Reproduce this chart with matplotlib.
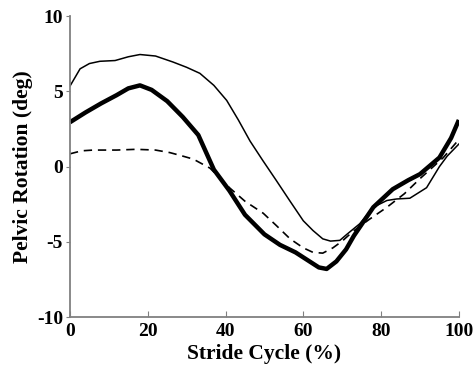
import matplotlib
matplotlib.use("Agg")
import matplotlib.pyplot as plt

# thick solid curve
x_thick = [0, 4, 8, 12, 15, 18, 21, 25, 29, 33, 37, 41, 45, 50, 54, 58, 61, 64, 66,
           68.5, 71, 73, 78, 83, 87, 90, 95, 98, 100]
y_thick = [2.95, 3.6, 4.2, 4.75, 5.2, 5.4, 5.1, 4.35, 3.3, 2.1, -0.2, -1.6, -3.2, -4.5,
           -5.2, -5.7, -6.2, -6.7, -6.8, -6.3, -5.5, -4.6, -2.7, -1.5, -0.9, -0.5, 0.6,
           1.9, 3.1]

# thin solid curve
x_thin = [0, 2.6, 5, 7.7, 11.6, 15, 18, 22, 26.5, 30, 33.4, 37, 40.3, 43.3, 46.3, 49.6,
          53, 56.6, 60, 62.5, 65, 67, 69.4, 71.2, 74.5, 78, 81.5, 84, 87.4, 91.7, 95,
          97, 100]
y_thin = [5.35, 6.5, 6.85, 7.0, 7.05, 7.3, 7.45, 7.35, 6.95, 6.6, 6.2, 5.4, 4.4, 3.1,
          1.7, 0.4, -0.9, -2.3, -3.6, -4.25, -4.8, -4.95, -4.9, -4.5, -3.8, -2.7,
          -2.25, -2.15, -2.1, -1.4, 0.0, 0.7, 1.5]

# dashed curve
x_dash = [0, 3, 6, 12, 17, 22, 25.7, 28.3, 31.7, 36, 41, 45, 49.7, 53, 56.6, 60, 62.5,
          65, 67.6, 70, 72.8, 77, 81.5, 86, 90, 96, 100]
y_dash = [0.85, 1.05, 1.1, 1.1, 1.15, 1.1, 0.93, 0.75, 0.5, -0.1, -1.4, -2.3, -3.1,
          -3.9, -4.8, -5.4, -5.7, -5.75, -5.4, -4.95, -4.3, -3.5, -2.7, -1.8, -0.8,
          0.6, 1.8]

x_ticks = [0, 20, 40, 60, 80, 100]
y_ticks = [-10, -5, 0, 5, 10]

plt.rcParams['font.family'] = ['Liberation Serif', 'DejaVu Serif']
plt.rcParams['font.weight'] = 'bold'
plt.rcParams['axes.unicode_minus'] = False

fig = plt.figure(figsize=(4.76, 3.67), dpi=100)
ax = fig.add_axes([0.147, 0.136, 0.817, 0.82])

ax.plot(x_thin, y_thin, color='black', lw=1.1)
ax.plot(x_dash, y_dash, color='black', lw=1.2, dashes=(5, 3.5))
ax.plot(x_thick, y_thick, color='black', lw=3.2, solid_capstyle='butt')

ax.set_xlim(0, 100)
ax.set_ylim(-10, 10)
ax.set_xticks(x_ticks)
ax.set_yticks(y_ticks)

for s in ['top', 'right']:
    ax.spines[s].set_visible(False)
for s in ['left', 'bottom']:
    ax.spines[s].set_color('#808080')
    ax.spines[s].set_linewidth(1.3)

ax.tick_params(axis='x', direction='in', length=4, color='#808080', labelsize=14, pad=4)
ax.tick_params(axis='y', direction='out', length=3, color='#808080', labelsize=14, pad=2)
for lab in ax.get_xticklabels() + ax.get_yticklabels():
    lab.set_fontweight('bold')

ax.set_xlabel("Stride Cycle (%)", fontsize=15.5, fontweight='bold', labelpad=3)
ax.set_ylabel("Pelvic Rotation (deg)", fontsize=15.5, fontweight='bold', labelpad=3)

fig.savefig("out.png", dpi=100)
